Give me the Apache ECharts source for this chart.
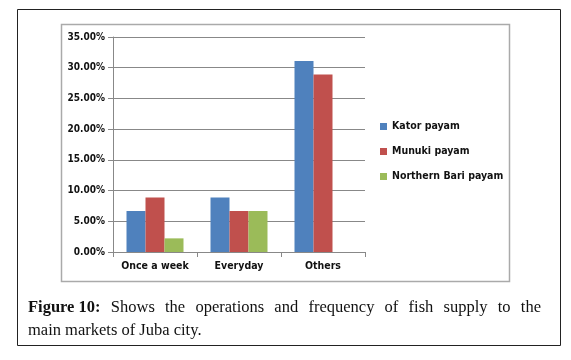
<!DOCTYPE html>
<html><head><meta charset="utf-8">
<script src="https://cdn.jsdelivr.net/npm/echarts@6/dist/echarts.min.js"></script>
<style>html,body{margin:0;padding:0;background:#fff}#c{width:571px;height:360px}</style>
</head><body><div id="c"></div>
<script>
const categories = ['Once a week', 'Everyday', 'Others'];
const kator = [0.0667, 0.0889, 0.3111];
const munuki = [0.0889, 0.0667, 0.2889];
const northernBari = [0.0222, 0.0667, 0];
const seriesNames = ['Kator payam', 'Munuki payam', 'Northern Bari payam'];
const captionBold = 'Figure 10:';
const captionLine1 = 'Shows the operations and frequency of fish supply to the';
const captionLine2 = 'main markets of Juba city.';

const capSize = 16.5;
const capFam = 'Liberation Serif';
const lblFont = {fontFamily: 'DejaVu Sans Condensed', fontWeight: 'bold', fontSize: 10, color: '#111'};

// justify first caption line between x0 and x1
const x0 = 28, x1 = 541;
const mctx = document.createElement('canvas').getContext('2d');
const words = [{t: captionBold, b: true}].concat(captionLine1.split(' ').map(w => ({t: w, b: false})));
words.forEach(w => { mctx.font = (w.b ? 'bold ' : '') + capSize + 'px "' + capFam + '"'; w.w = mctx.measureText(w.t).width; });
const total = words.reduce((s, w) => s + w.w, 0);
const gap = (x1 - x0 - total) / (words.length - 1);
let cx = x0;
const capGraphics = words.map(w => {
  const g = {type: 'text', x: cx, y: 299, style: {text: w.t, fontFamily: capFam, fontWeight: w.b ? 'bold' : 'normal', fontSize: capSize, fill: '#111'}, silent: true};
  cx += w.w + gap;
  return g;
});

const chart = echarts.init(document.getElementById('c'), null, {renderer: 'canvas'});
const colors = ['#4F81BD', '#C0504D', '#9BBB59'];
chart.setOption({
  animation: false,
  color: colors,
  grid: {left: 113, right: 206, top: 37, bottom: 108},
  legend: {
    orient: 'vertical', left: 380, top: 121, itemWidth: 7, itemHeight: 7, itemGap: 14,
    icon: 'rect', data: seriesNames, textStyle: Object.assign({}, lblFont, {fontSize: 10.5}), padding: 0
  },
  xAxis: {
    type: 'category', data: categories,
    axisLine: {lineStyle: {color: '#888', width: 1}},
    axisTick: {show: true, length: 5, lineStyle: {color: '#888'}},
    axisLabel: Object.assign({margin: 9, interval: 0}, lblFont, {fontSize: 10.5})
  },
  yAxis: {
    type: 'value', min: 0, max: 0.35, interval: 0.05,
    axisLine: {show: true, lineStyle: {color: '#888'}},
    axisTick: {show: true, length: 5, lineStyle: {color: '#888'}},
    splitLine: {lineStyle: {color: '#888', width: 1}},
    axisLabel: Object.assign({margin: 8, formatter: v => (v * 100).toFixed(2) + '%'}, lblFont)
  },
  series: [
    {name: seriesNames[0], type: 'bar', data: kator, barWidth: 19, barGap: '0%'},
    {name: seriesNames[1], type: 'bar', data: munuki, barWidth: 19, barGap: '0%'},
    {name: seriesNames[2], type: 'bar', data: northernBari, barWidth: 19, barGap: '0%'}
  ],
  graphic: [
    {type: 'rect', shape: {x: 17.5, y: 9.5, width: 543, height: 336}, style: {fill: 'none', stroke: '#222', lineWidth: 1}, silent: true},
    {type: 'rect', shape: {x: 61.5, y: 24.5, width: 448, height: 257}, style: {fill: 'none', stroke: '#aaa', lineWidth: 1.5}, silent: true},
    {type: 'text', x: 28, y: 322, style: {text: captionLine2, fontFamily: capFam, fontSize: capSize, fill: '#111'}, silent: true}
  ].concat(capGraphics)
});
</script></body></html>
